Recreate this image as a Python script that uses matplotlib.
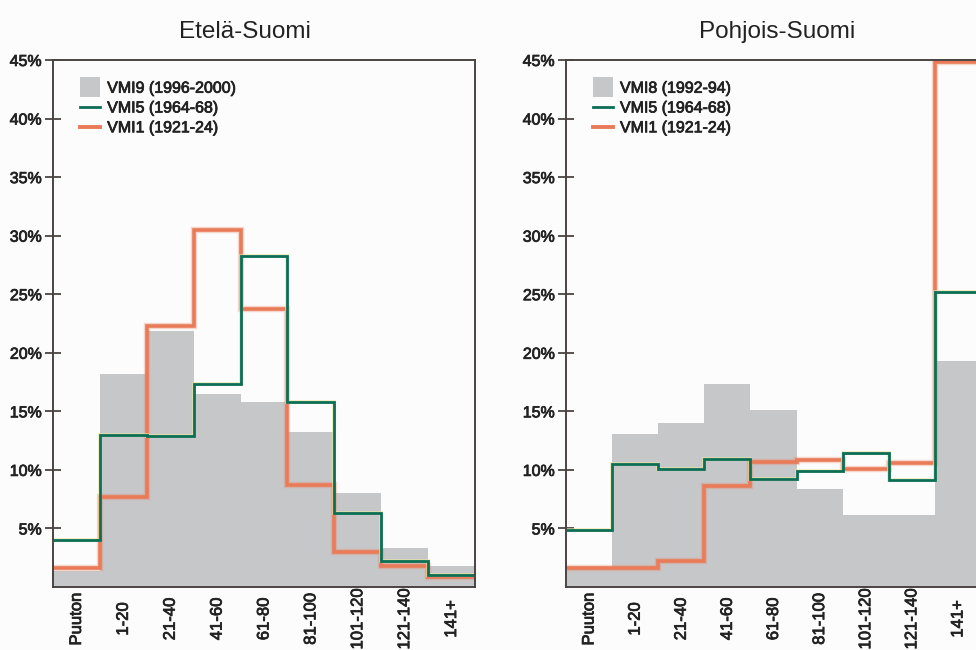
import numpy as np
import matplotlib
matplotlib.use("Agg")
import matplotlib.pyplot as plt
import matplotlib.patheffects as pe
from matplotlib.patches import Rectangle, Patch
from matplotlib.lines import Line2D
from matplotlib.legend_handler import HandlerPatch

plt.rcParams['font.family'] = ['Liberation Sans', 'DejaVu Sans']

categories = ["Puuton", "1-20", "21-40", "41-60", "61-80", "81-100",
              "101-120", "121-140", "141+"]

# Etelä-Suomi (%)
south_vmi9 = [1.4, 18.2, 21.9, 16.5, 15.8, 13.2, 8.0, 3.3, 1.8]
south_vmi5 = [4.0, 13.0, 12.9, 17.3, 28.3, 15.8, 6.3, 2.2, 1.0]
south_vmi1 = [1.6, 7.7, 22.3, 30.5, 23.7, 8.7, 3.0, 1.8, 0.85]

# Pohjois-Suomi (%)
north_vmi8 = [1.5, 13.1, 14.0, 17.3, 15.1, 8.4, 6.15, 6.15, 19.3]
north_vmi5 = [4.9, 10.5, 10.1, 10.9, 9.2, 9.9, 11.4, 9.1, 25.2]
north_vmi1 = [1.6, 1.6, 2.2, 8.6, 10.7, 10.85, 10.05, 10.6, 44.8]

titles = ["Etelä-Suomi", "Pohjois-Suomi"]
legend_gray = ["VMI9 (1996-2000)", "VMI8 (1992-94)"]
label_vmi5 = "VMI5 (1964-68)"
label_vmi1 = "VMI1 (1921-24)"
yticks = [5, 10, 15, 20, 25, 30, 35, 40, 45]

GRAY = "#c6c7c9"
GREEN = "#0b6e55"
ORANGE = "#e97b59"
SPINE = "#4a4542"
TEXT = "#222222"
BG = "#fcfcfd"

W, H = 976, 650
fig = plt.figure(figsize=(W / 100, H / 100), dpi=100, facecolor=BG)

THICK = [pe.withStroke(linewidth=0.55, foreground=TEXT)]


class SquareHandler(HandlerPatch):
    def create_artists(self, legend, orig_handle, xdescent, ydescent,
                       width, height, fontsize, trans):
        h = height * 1.75
        p = Rectangle((-xdescent, -ydescent - (h - height) / 2), width, h,
                      facecolor=orig_handle.get_facecolor(), edgecolor='none',
                      transform=trans)
        return [p]


def make_panel(rect, gray, g5, o1, gray_label, title, title_x):
    ax = fig.add_axes(rect)
    ax.set_facecolor(BG)
    edges = np.arange(len(categories) + 1)
    centers = edges[:-1] + 0.5
    ax.bar(edges[:-1], gray, width=1.0, align='edge', color=GRAY,
           linewidth=0, zorder=1)
    # orange with soft halo
    ax.stairs(o1, edges, baseline=None, color=ORANGE, alpha=0.3,
              linewidth=4.6, zorder=2)
    ax.stairs(o1, edges, baseline=None, color=ORANGE, linewidth=2.6,
              zorder=3)
    ax.stairs(g5, edges, baseline=None, color="#e8e6a0", linewidth=2.9,
              alpha=0.6, zorder=4)
    ax.stairs(g5, edges, baseline=None, color=GREEN, linewidth=2.0,
              zorder=5)
    ax.set_xlim(0, len(categories))
    ax.set_ylim(0, 45)
    ax.set_yticks(yticks)
    ax.set_yticklabels([f"{v}%" for v in yticks], fontsize=11.5, color=TEXT)
    ax.tick_params(axis='y', direction='inout', length=12, width=1.3,
                   color=SPINE, pad=2)
    ax.set_xticks(centers)
    ax.set_xticklabels(categories, rotation=90, fontsize=12, color=TEXT,
                       va='center', ha='center')
    ax.tick_params(axis='x', length=0, pad=23)
    for t in ax.get_xticklabels() + ax.get_yticklabels():
        t.set_path_effects(THICK)
    for s in ax.spines.values():
        s.set_color(SPINE)
        s.set_linewidth(1.4)
        s.set_zorder(6)
    handles = [Patch(facecolor=GRAY, edgecolor='none'),
               Line2D([], [], color=GREEN, linewidth=2.0),
               Line2D([], [], color=ORANGE, linewidth=2.8)]
    leg = ax.legend(handles, [gray_label, label_vmi5, label_vmi1],
                    loc='upper left', bbox_to_anchor=(0.03, 0.988),
                    frameon=False, fontsize=11.5, handlelength=1.25,
                    handletextpad=0.45, labelspacing=0.3, borderpad=0.4,
                    handler_map={Patch: SquareHandler()})
    for t in leg.get_texts():
        t.set_color(TEXT)
        t.set_path_effects(THICK)
    fig.text(title_x / W, 1 - 32 / H, title, ha='center', va='center',
             fontsize=17.5, color=TEXT)
    return ax


def rect_px(x0, x1, y0, y1):
    return [x0 / W, 1 - y1 / H, (x1 - x0) / W, (y1 - y0) / H]


make_panel(rect_px(53, 475, 60, 587), south_vmi9, south_vmi5, south_vmi1,
           legend_gray[0], titles[0], 245)
make_panel(rect_px(566, 981, 60, 587), north_vmi8, north_vmi5, north_vmi1,
           legend_gray[1], titles[1], 777)

fig.savefig("out.png", dpi=100, facecolor=BG)
